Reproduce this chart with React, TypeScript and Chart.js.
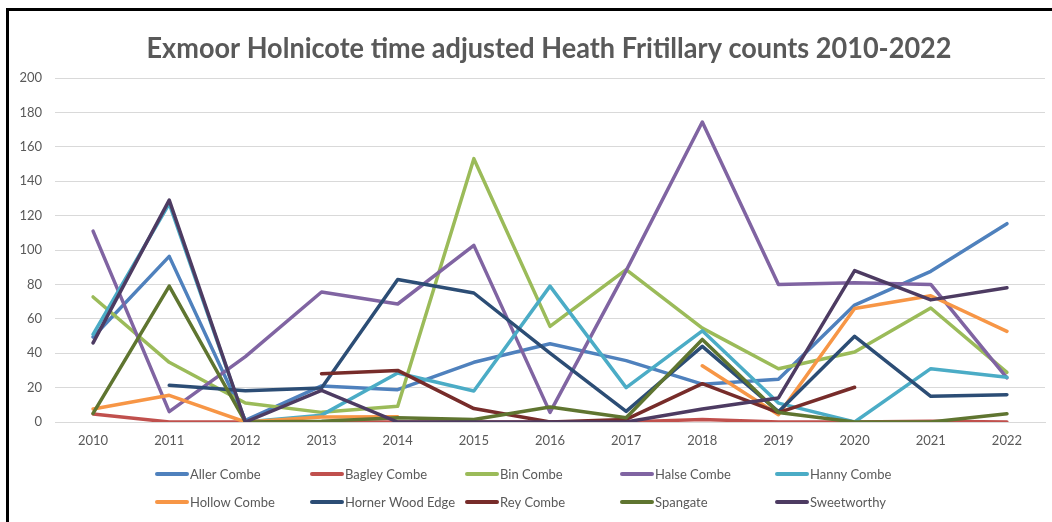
import React, { useEffect, useRef } from "react";
import { Chart, registerables } from "chart.js";

Chart.register(...registerables);

const TITLE = "Exmoor Holnicote time adjusted Heath Fritillary counts 2010-2022";

const years = ["2010", "2011", "2012", "2013", "2014", "2015", "2016", "2017", "2018", "2019", "2020", "2021", "2022"];

const allerCombe = [49.4, 96.3, 1, 21, 18.8, 34.7, 45.5, 35.7, 22, 24.8, 68, 87.6, 115.3];
const bagleyCombe = [4.7, 0, 0, 0, 0, 0, 0, 0, 1.5, 0, 0, 0.5, 0];
const binCombe = [72.7, 34.7, 11, 5.6, 9.1, 153.1, 55.6, 88.6, 54.6, 31, 40.7, 66.3, 28.9];
const halseCombe = [111, 6, 38, 75.6, 68.6, 102.7, 5.6, 88, 174.4, 80, 81, 80, 25.6];
const hannyCombe = [51, 127, 0, 4, 28.5, 18, 79, 20, 53, 11, 0, 31, 26];
const hollowCombe = [7.6, 15.5, 0, 2.9, 3, null, null, null, 32.7, 4.2, 66, 73.4, 52.7];
const hornerWoodEdge = [null, 21.3, 18.2, 19.8, 82.8, 75, 40, 6.2, 44, 6, 49.8, 14.9, 15.9];
const reyCombe = [null, null, null, 28.1, 30, 7.8, 0, 1.5, 22.3, 5.5, 20.2, null, null];
const spangate = [5, 79, 0, 0.5, 2.5, 1.5, 8.7, 2.5, 48, 5.5, 0, 0, 4.8];
const sweetworthy = [46, 129, 0, 18.4, 0, 0, 0, 0, 7.6, 14, 88, 71, 78];

const seriesNames = [
  "Aller Combe", "Bagley Combe", "Bin Combe", "Halse Combe", "Hanny Combe",
  "Hollow Combe", "Horner Wood Edge", "Rey Combe", "Spangate", "Sweetworthy",
];
const seriesValues = [
  allerCombe, bagleyCombe, binCombe, halseCombe, hannyCombe,
  hollowCombe, hornerWoodEdge, reyCombe, spangate, sweetworthy,
];
const seriesColors = [
  "#4F81BD", "#C0504D", "#9BBB59", "#8064A2", "#4BACC6",
  "#F79646", "#2C4D75", "#772C2A", "#5F7530", "#4D3B62",
];

const yTicksMin = 0;
const yTicksMax = 200;
const yTicksStep = 20;

const overlayPlugin = {
  id: "overlay",
  afterDraw(chart: any) {
    const ctx = chart.ctx;
    ctx.save();
    ctx.fillStyle = "#595959";
    ctx.font = "bold 29px Lato";
    ctx.textAlign = "center";
    ctx.textBaseline = "alphabetic";
    ctx.fillText(TITLE, 549, 58, 805);

    ctx.font = "13px Lato";
    ctx.textAlign = "left";
    ctx.textBaseline = "middle";
    seriesNames.forEach((name, i) => {
      const col = i % 5;
      const row = Math.floor(i / 5);
      const x = 155 + col * 155;
      const y = 474 + row * 28;
      ctx.strokeStyle = seriesColors[i];
      ctx.lineWidth = 4;
      ctx.lineCap = "round";
      ctx.beginPath();
      ctx.moveTo(x + 2, y);
      ctx.lineTo(x + 32, y);
      ctx.stroke();
      ctx.fillStyle = "#595959";
      ctx.fillText(name, x + 35, y + 1);
    });
    ctx.restore();
  },
};

export default function App() {
  const canvasRef = useRef<HTMLCanvasElement | null>(null);

  useEffect(() => {
    if (!canvasRef.current) return;
    Chart.defaults.font.family = "Lato";
    const chart = new Chart(canvasRef.current, {
      type: "line",
      data: {
        labels: years,
        datasets: seriesNames.map((name, i) => ({
          label: name,
          data: seriesValues[i],
          borderColor: seriesColors[i],
          backgroundColor: seriesColors[i],
          borderWidth: 3.5,
          pointRadius: 0,
          pointHoverRadius: 0,
          tension: 0,
          spanGaps: false,
          borderJoinStyle: "round" as const,
          borderCapStyle: "round" as const,
          order: seriesNames.length - i,
        })),
      },
      options: {
        animation: false,
        responsive: false,
        maintainAspectRatio: false,
        layout: { padding: { left: 0, right: 7, top: 78, bottom: 0 } },
        plugins: {
          legend: { display: false },
          title: { display: false },
          tooltip: { enabled: false },
        },
        scales: {
          x: {
            type: "category",
            offset: true,
            grid: { display: false, drawTicks: false },
            border: { display: true, color: "#D9D9D9", width: 1 },
            ticks: { color: "#595959", font: { size: 13, family: "Lato" }, padding: 11, maxRotation: 0 },
            afterFit: (s: any) => { s.height = 100; },
          },
          y: {
            min: yTicksMin,
            max: yTicksMax,
            grid: { color: "#D9D9D9", lineWidth: 1, drawTicks: false },
            border: { display: false },
            ticks: { stepSize: yTicksStep, color: "#595959", font: { size: 13, family: "Lato" }, padding: 13 },
            afterFit: (s: any) => { s.width = 55; },
          },
        },
      },
      plugins: [overlayPlugin],
    });
    return () => chart.destroy();
  }, []);

  return (
    <div>
      <div style={{ position: "fixed", left: 0, top: 0, width: 1052, height: 522, background: "#fff" }}>
        <canvas ref={canvasRef} width={1052} height={522} style={{ width: 1052, height: 522, display: "block" }} />
      </div>
      <div
        style={{
          position: "fixed",
          left: 6,
          top: 8,
          width: 1100,
          height: 600,
          borderLeft: "3px solid #000",
          borderTop: "3px solid #000",
          pointerEvents: "none",
        }}
      />
    </div>
  );
}
